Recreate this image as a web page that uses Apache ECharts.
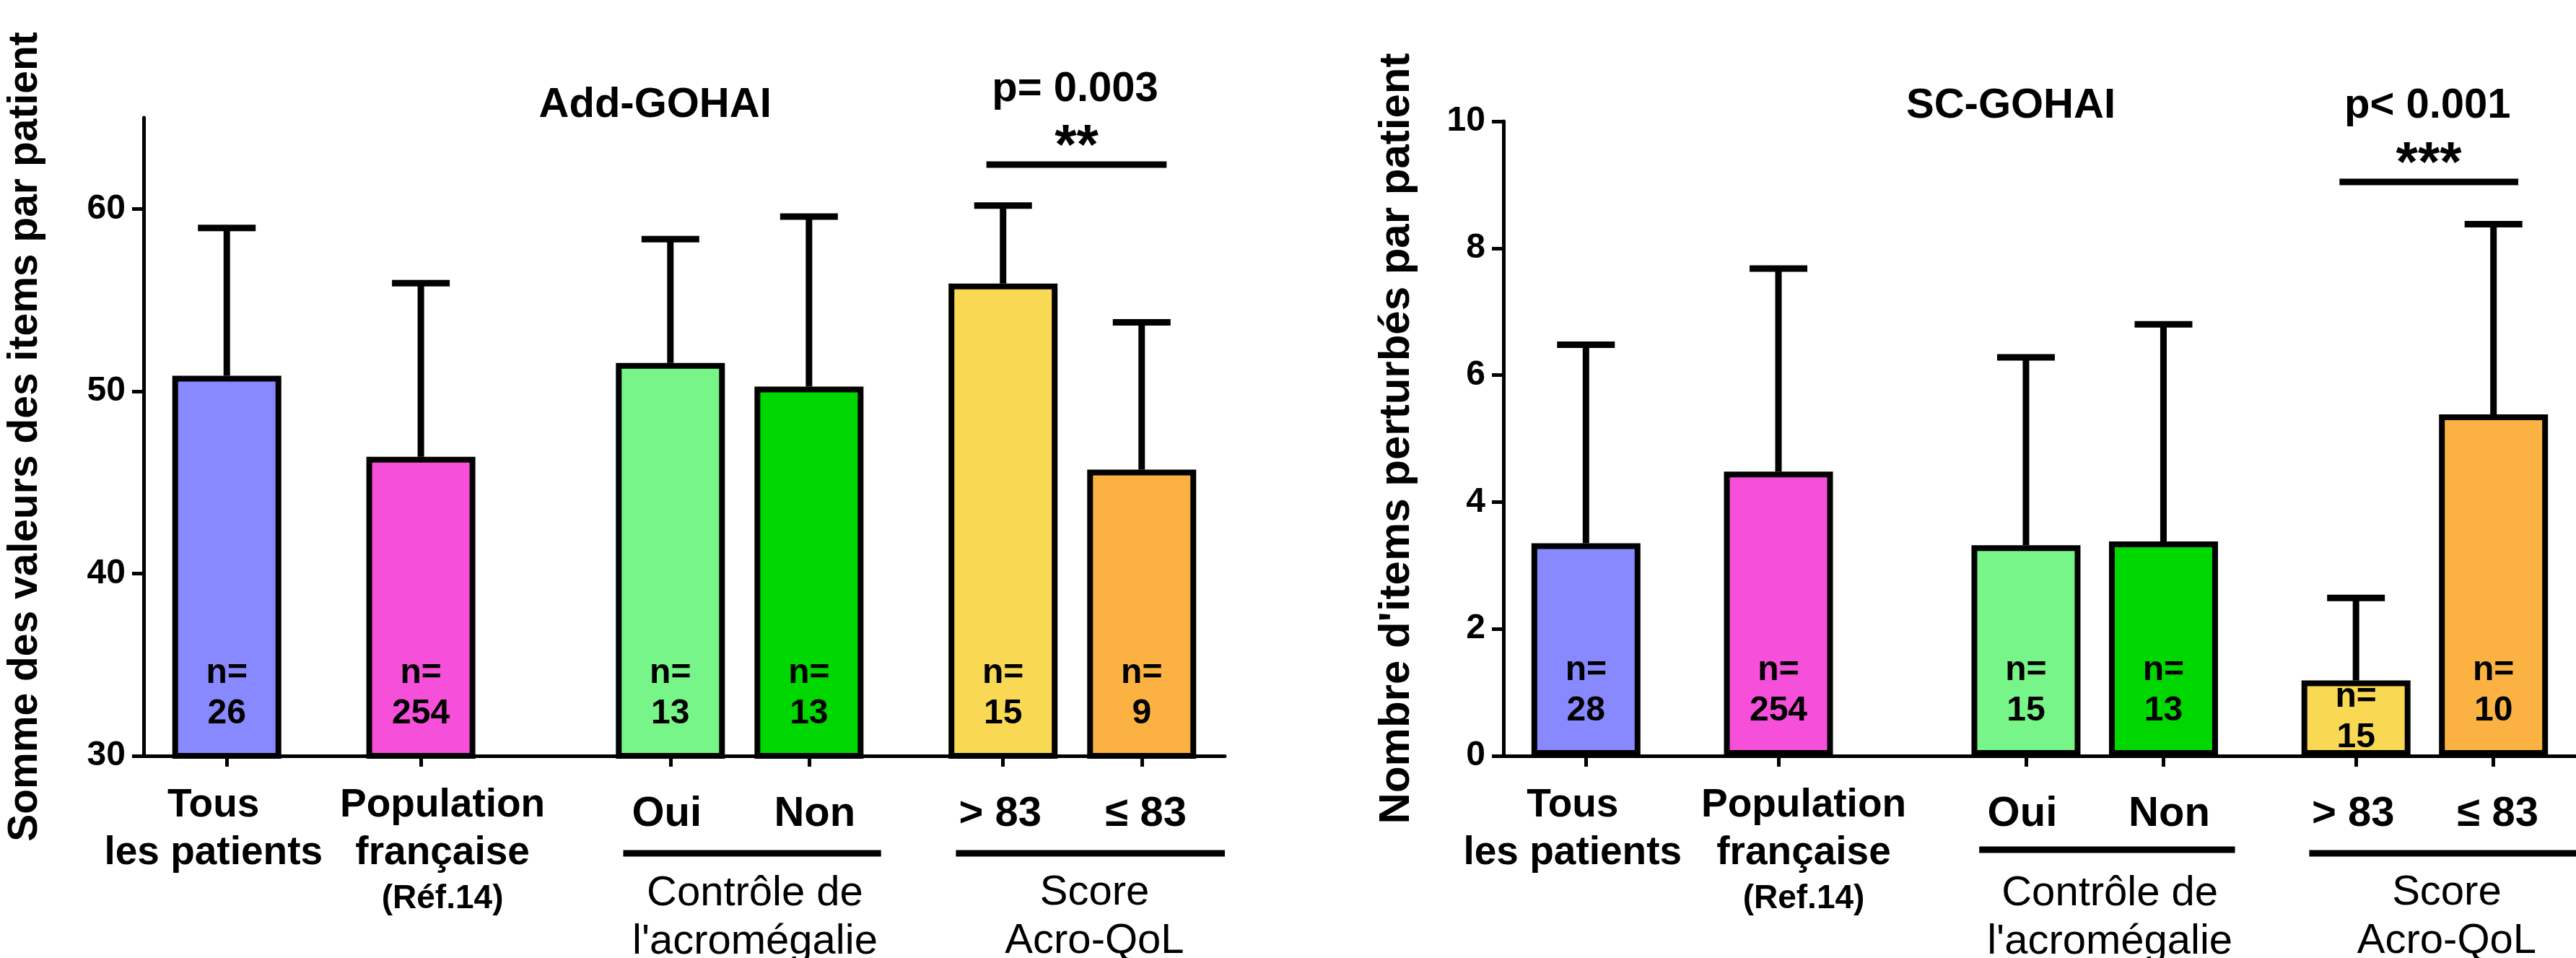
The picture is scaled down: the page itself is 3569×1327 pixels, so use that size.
<!DOCTYPE html>
<html><head><meta charset="utf-8">
<script src="https://cdn.jsdelivr.net/npm/echarts@6/dist/echarts.min.js"></script>
<style>html,body{margin:0;padding:0;background:#fff}#c{width:3569px;height:1327px}</style>
</head><body><div id="c"></div>
<script>
// ---------------- data ----------------
const groups = ['Tous les patients', 'Population française', 'Oui', 'Non', '> 83', '≤ 83'];
const barColors = ['#8888FF', '#F64FD9', '#77F589', '#00D700', '#F9D954', '#FBB242'];
const addMeans = [50.85, 46.4, 51.55, 50.25, 55.9, 45.7];
const addSD = [8.1, 9.52, 6.79, 9.33, 4.28, 8.08];
const addN = [26, 254, 13, 13, 15, 9];
const scMeans = [3.35, 4.48, 3.32, 3.38, 1.19, 5.38];
const scSD = [3.13, 3.2, 2.96, 3.42, 1.3, 3.0];
const scN = [28, 254, 15, 13, 15, 10];
const addTicks = [30, 40, 50, 60];
const scTicks = [0, 2, 4, 6, 8, 10];
const leftLabels = [['Tous', 'les patients'], ['Population', 'française', '(Réf.14)'], ['Oui'], ['Non'], ['> 83'], ['≤ 83']];
const rightLabels = [['Tous', 'les patients'], ['Population', 'française', '(Ref.14)'], ['Oui'], ['Non'], ['> 83'], ['≤ 83']];
const groupTitles = ['Contrôle de\nl\'acromégalie', 'Score\nAcro-QoL'];
const chartTitles = ['Add-GOHAI', 'SC-GOHAI'];
const yTitles = ['Somme des valeurs des items par patient', 'Nombre d\'items perturbés par patient'];
const pTexts = ['p= 0.003', 'p< 0.001'];
const stars = ['**', '***'];

// ---------------- layout ----------------
const FF = '"Liberation Sans", Arial, Helvetica, sans-serif';
const SLOTS = [3, 10, 19, 24, 31, 36];
const NSLOT = 40;
const slotNames = Array.from({length: NSLOT}, (_, i) => 's' + i);
const isBarSlot = (i) => SLOTS.indexOf(i) >= 0;

function barData(means, ns, special) {
  const arr = new Array(NSLOT).fill('-');
  SLOTS.forEach((s, k) => {
    const item = {value: means[k], itemStyle: {color: barColors[k]}, n: ns[k]};
    if (special && special[k]) item.label = special[k];
    arr[s] = item;
  });
  return arr;
}
function errData(means, sds) {
  return SLOTS.map((s, k) => [s, means[k], means[k] + sds[k]]);
}
function renderErr(params, api) {
  const x = api.value(0), m = api.value(1), u = api.value(2);
  const p0 = api.coord([x, m]);
  const p1 = api.coord([x, u]);
  return {type: 'group', children: [
    {type: 'line', shape: {x1: p0[0], y1: p0[1], x2: p1[0], y2: p1[1]}, style: {stroke: '#000', lineWidth: 9}},
    {type: 'line', shape: {x1: p1[0] - 40, y1: p1[1], x2: p1[0] + 40, y2: p1[1]}, style: {stroke: '#000', lineWidth: 9}}
  ]};
}
function labelFormatterFactory(lines) {
  return function (value, index) {
    const k = SLOTS.indexOf(index);
    if (k < 0) return ' ';
    const L = lines[k];
    if (k === 0) return '{t|' + L[0] + '}\n{t|' + L[1] + '}';
    if (k === 1) return '{p|' + L[0] + '}\n{p|' + L[1] + '}\n{r|' + L[2] + '}';
    const st = ['', '', 'g2', 'g3', 'g4', 'g5'][k];
    return '{' + st + '|' + L[0] + '}';
  };
}
function richFor(isLeft) {
  const base = {fontFamily: FF, fontWeight: 'bold', color: '#000'};
  return {
    t: Object.assign({}, base, {fontSize: 55, lineHeight: 66, padding: [0, 37, 0, 0]}),
    p: Object.assign({}, base, {fontSize: 55, lineHeight: 66, padding: [0, 0, 0, isLeft ? 60 : 70]}),
    r: Object.assign({}, base, {fontSize: 46, lineHeight: 60, padding: [0, 0, 0, isLeft ? 60 : 70]}),
    g2: Object.assign({}, base, {fontSize: 58, lineHeight: 90, padding: [0, 10, 0, 0]}),
    g3: Object.assign({}, base, {fontSize: 58, lineHeight: 90, padding: [0, 0, 0, 16]}),
    g4: Object.assign({}, base, {fontSize: 58, lineHeight: 90, padding: [0, 8, 0, 0]}),
    g5: Object.assign({}, base, {fontSize: 58, lineHeight: 90, padding: [0, 0, 0, 12]})
  };
}
function xAxisFor(gi, lines) {
  return {
    type: 'category', gridIndex: gi, data: slotNames, boundaryGap: false,
    axisLine: {show: true, lineStyle: {color: '#000', width: 5}},
    axisTick: {show: true, interval: (i) => isBarSlot(i), length: 15, lineStyle: {color: '#000', width: 5}},
    axisLabel: {show: true, interval: (i) => i === 0 || isBarSlot(i), formatter: labelFormatterFactory(lines),
      rich: richFor(gi === 0), margin: 36, color: '#000', fontSize: 55, hideOverlap: false},
    splitLine: {show: false}
  };
}
function yAxisFor(gi, min, max, ticks, title, gap, fs) {
  return {
    type: 'value', gridIndex: gi, min: min, max: max,
    axisLine: {show: true, lineStyle: {color: '#000', width: 5}},
    axisTick: {show: true, customValues: ticks, length: 16, lineStyle: {color: '#000', width: 5}},
    axisLabel: {show: true, customValues: ticks, fontSize: 48, fontWeight: 'bold', fontFamily: FF, color: '#000', margin: 25,
      showMinLabel: true, showMaxLabel: true},
    splitLine: {show: false},
    name: title, nameLocation: 'middle', nameGap: gap, nameMoveOverlap: false,
    nameTextStyle: {fontSize: fs, fontWeight: 'bold', fontFamily: FF, color: '#000'}
  };
}
const nLabel = {
  show: true, position: 'insideBottom', distance: 34,
  formatter: (p) => '{n|n=}\n{n|' + p.data.n + '}',
  rich: {n: {fontSize: 48, fontWeight: 'bold', fontFamily: FF, color: '#000', lineHeight: 56}}
};

const chart = echarts.init(document.getElementById('c'), null, {renderer: 'canvas'});
const option = {
  backgroundColor: '#fff',
  animation: false,
  grid: [
    {left: 199, top: 163, width: 1498, height: 884, containLabel: false},
    {left: 2083, top: 168, width: 1512, height: 879, containLabel: false}
  ],
  xAxis: [xAxisFor(0, leftLabels), xAxisFor(1, rightLabels)],
  yAxis: [
    yAxisFor(0, 30, 65, addTicks, yTitles[0], 135, 57),
    yAxisFor(1, 0, 10, scTicks, yTitles[1], 118, 60)
  ],
  series: [
    {type: 'custom', xAxisIndex: 0, yAxisIndex: 0, renderItem: renderErr, data: errData(addMeans, addSD), z: 1, encode: {x: 0, y: [1, 2]}},
    {type: 'custom', xAxisIndex: 1, yAxisIndex: 1, renderItem: renderErr, data: errData(scMeans, scSD), z: 1, encode: {x: 0, y: [1, 2]}},
    {type: 'bar', name: chartTitles[0], xAxisIndex: 0, yAxisIndex: 0, barWidth: 151, z: 2,
      itemStyle: {borderColor: '#000', borderWidth: 8}, label: nLabel, data: barData(addMeans, addN)},
    {type: 'bar', name: chartTitles[1], xAxisIndex: 1, yAxisIndex: 1, barWidth: 151, z: 2,
      itemStyle: {borderColor: '#000', borderWidth: 8}, label: nLabel, data: barData(scMeans, scN, {4: {distance: -3}})}
  ]
};
chart.setOption(option);

// ---------------- annotations ----------------
function xOf(gi, slot) {
  const a = chart.convertToPixel({xAxisIndex: gi}, 0);
  const b = chart.convertToPixel({xAxisIndex: gi}, 1);
  return a + slot * (b - a);
}
function yOf(gi, v) { return chart.convertToPixel({yAxisIndex: gi}, v); }
function txt(x, y, text, font, extra) {
  return {type: 'text', x: x, y: y, z: 10,
    style: Object.assign({text: text, font: font, fill: '#000', align: 'center', verticalAlign: 'middle'}, extra || {})};
}
function hline(x1, x2, y, w) {
  return {type: 'line', z: 10, shape: {x1: x1, y1: y, x2: x2, y2: y}, style: {stroke: '#000', lineWidth: w}};
}
const bold58 = 'bold 58px ' + FF;
const bold78 = 'bold 78px ' + FF;
const reg58 = '58px ' + FF;
const g = [];
const ann = [
  {title: 146, p: 124, star: 205, sig: 62.43, grpY: [1182, 1182]},
  {title: 147, p: 147, star: 229, sig: 9.044, grpY: [1177, 1182]}
];
[0, 1].forEach(gi => {
  const A = ann[gi];
  g.push(txt(xOf(gi, 18.45), A.title, chartTitles[gi], bold58));
  g.push(txt(xOf(gi, 33.6), A.p, pTexts[gi], bold58));
  g.push(txt(xOf(gi, 33.65), A.star, stars[gi], bold78));
  g.push(hline(xOf(gi, 30.4), xOf(gi, 36.9), yOf(gi, A.sig), 9));
  g.push(hline(xOf(gi, 17.3), xOf(gi, 26.6), A.grpY[0], 9));
  g.push(hline(xOf(gi, 29.3), xOf(gi, 39.0), A.grpY[1], 9));
  g.push(txt(xOf(gi, 22.05), 1271, groupTitles[0], reg58, {lineHeight: 67}));
  g.push(txt(xOf(gi, 34.3), 1270, groupTitles[1], reg58, {lineHeight: 67}));
});
chart.setOption({graphic: {elements: g}});
</script>
</body></html>
